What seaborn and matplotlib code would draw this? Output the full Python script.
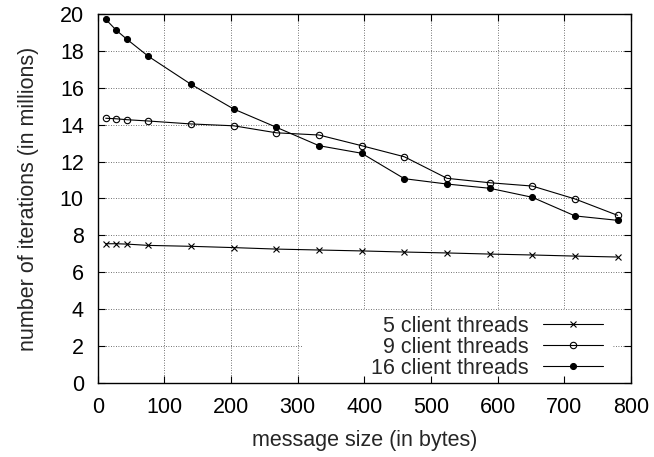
import matplotlib
matplotlib.use("Agg")
import matplotlib.pyplot as plt
import matplotlib.patches as mpatches
import seaborn as sns
import pandas as pd

# message sizes (bytes)
sizes = [12, 28, 44, 76, 140, 204, 268, 332, 396, 460, 524, 588, 652, 716, 780]

# iterations in millions
threads_5 = [7.54, 7.54, 7.52, 7.45, 7.40, 7.33, 7.25, 7.20, 7.15, 7.09, 7.04, 6.98, 6.93, 6.87, 6.82]
threads_9 = [14.35, 14.32, 14.27, 14.20, 14.04, 13.94, 13.56, 13.44, 12.86, 12.26, 11.09, 10.85, 10.67, 9.97, 9.08]
threads_16 = [19.72, 19.12, 18.63, 17.71, 16.19, 14.85, 13.86, 12.86, 12.45, 11.07, 10.78, 10.55, 10.06, 9.05, 8.81]

labels = ["5 client threads", "9 client threads", "16 client threads"]
xticks = list(range(0, 801, 100))
yticks = list(range(0, 21, 2))

sns.set_style("ticks")
plt.rcParams['font.family'] = ['Liberation Sans', 'DejaVu Sans']
plt.rcParams['axes.axisbelow'] = False
FS = 15.5

fig = plt.figure(figsize=(6.54, 4.57), dpi=100)
ax = fig.add_axes([0.1494, 0.1626, 0.8154, 0.8065])

# gnuplot style point types: cross, open circle, filled circle
styles = [
    dict(marker="x", markersize=4, markeredgewidth=0.8, markerfacecolor="black"),
    dict(marker="o", markersize=4.6, markeredgewidth=0.8, markerfacecolor="none"),
    dict(marker="o", markersize=4.3, markeredgewidth=0.8, markerfacecolor="black"),
]
for vals, lab, st in zip([threads_5, threads_9, threads_16], labels, styles):
    df = pd.DataFrame({"size": sizes, "iters": vals})
    sns.lineplot(data=df, x="size", y="iters", ax=ax, color="black",
                 linewidth=0.8, label=lab, markeredgecolor="black", **st)

ax.set_xlim(0, 800)
ax.set_ylim(0, 20)
ax.set_xticks(xticks)
ax.set_yticks(yticks)

# dotted grid drawn by hand so the key box can hide it but not the ticks
for t in xticks[1:-1]:
    ax.axvline(t, linestyle=(0, (1, 2)), color="#444444", linewidth=0.6, zorder=0.5)
for t in yticks[1:-1]:
    ax.axhline(t, linestyle=(0, (1, 2)), color="#444444", linewidth=0.6, zorder=0.5)
ax.add_patch(mpatches.Rectangle((0.383, 0.0), 0.583, 0.196, transform=ax.transAxes,
                                facecolor="white", edgecolor="none", zorder=0.7))

ax.tick_params(direction="in", length=5, width=0.8, top=True, right=True,
               labelsize=FS, colors="black")
ax.tick_params(axis="x", pad=10)
ax.tick_params(axis="y", pad=10)
for sp in ax.spines.values():
    sp.set_linewidth(1.0)
    sp.set_color("black")

ax.set_xlabel("message size (in bytes)", fontsize=FS, labelpad=9)
ax.set_ylabel("number of iterations (in millions)", fontsize=FS, labelpad=15)

leg = ax.legend(loc="lower right", markerfirst=False, fontsize=FS,
                handlelength=2.8, handletextpad=0.65, labelspacing=0.0,
                borderpad=0.0, borderaxespad=0.0,
                bbox_to_anchor=(0.9475, 0.01), frameon=False)
# right-align the key labels like gnuplot does
leg._legend_box._children[1]._children[0].align = "right"

fig.savefig("out.png", dpi=100)
